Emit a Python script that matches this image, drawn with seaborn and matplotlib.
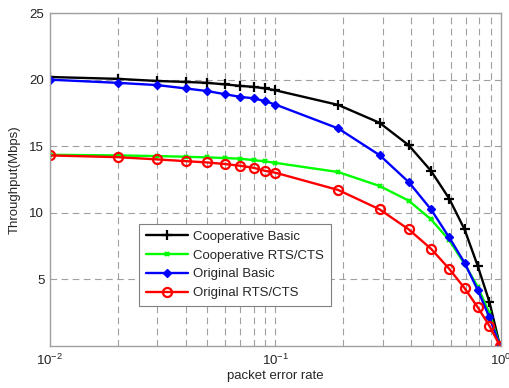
import matplotlib
matplotlib.use("Agg")
import matplotlib.pyplot as plt
import seaborn as sns
from matplotlib.ticker import FixedLocator, LogLocator, NullFormatter

# packet error rate (x) and throughput in Mbps for each scheme
per = [0.01, 0.02, 0.03, 0.04, 0.05, 0.06, 0.07, 0.08, 0.09, 0.10,
       0.19, 0.29, 0.39, 0.49, 0.59, 0.69, 0.79, 0.89, 0.99]
coop_basic = [20.2, 20.06, 19.9, 19.83, 19.76, 19.64, 19.53, 19.46, 19.34, 19.2,
              18.1, 16.75, 15.07, 13.14, 11.05, 8.74, 5.98, 3.27, 0.0]
coop_rts = [14.35, 14.3, 14.25, 14.2, 14.15, 14.1, 14.05, 13.95, 13.85, 13.74,
            13.05, 12.0, 10.9, 9.49, 7.93, 6.13, 4.42, 2.42, 0.0]
orig_basic = [20.0, 19.76, 19.59, 19.34, 19.14, 18.9, 18.7, 18.6, 18.38, 18.13,
              16.33, 14.32, 12.3, 10.24, 8.13, 6.23, 4.17, 2.12, 0.0]
orig_rts = [14.3, 14.17, 14.0, 13.87, 13.77, 13.65, 13.52, 13.37, 13.14, 13.0,
            11.7, 10.24, 8.74, 7.28, 5.77, 4.32, 2.87, 1.47, 0.0]

labels = ['Cooperative Basic', 'Cooperative RTS/CTS', 'Original Basic', 'Original RTS/CTS']

sns.set_theme(style="white")
plt.rcParams['font.family'] = ['Liberation Sans', 'DejaVu Sans']
plt.rcParams['mathtext.fontset'] = 'custom'
plt.rcParams['mathtext.rm'] = 'Liberation Sans'
plt.rcParams['mathtext.it'] = 'Liberation Sans'

fig = plt.figure(figsize=(5.09, 3.88), dpi=100)
ax = fig.add_axes([0.098, 0.1095, 0.886, 0.8565])

styles = [
    (coop_basic, labels[0], dict(color='black', marker='+', markersize=7, markeredgewidth=1.6)),
    (coop_rts, labels[1], dict(color='#00ff00', marker='x', markersize=3.5, markeredgewidth=1.6)),
    (orig_basic, labels[2], dict(color='#0000ff', marker='D', markersize=4.5, markeredgewidth=1.0)),
    (orig_rts, labels[3], dict(color='#ff0000', marker='o', markersize=6.5, markerfacecolor='none',
                               markeredgewidth=1.6)),
]
for vals, lab, kw in styles:
    sns.lineplot(x=per, y=vals, ax=ax, label=lab, linewidth=1.7,
                 markeredgecolor=kw['color'], **kw)

ax.set_xscale('log')
ax.set_xlim(0.01, 1.0)
ax.set_ylim(0, 25)
ax.yaxis.set_major_locator(FixedLocator([5, 10, 15, 20, 25]))
ax.xaxis.set_major_locator(LogLocator(base=10))
ax.xaxis.set_minor_locator(LogLocator(base=10, subs=range(2, 10)))
ax.xaxis.set_minor_formatter(NullFormatter())

grid_kw = dict(color='#a0a0a0', linestyle=(0, (6, 4)), linewidth=0.8)
ax.grid(True, which='both', axis='x', **grid_kw)
ax.grid(True, which='major', axis='y', **grid_kw)

for sp in ax.spines.values():
    sp.set_color('#a0a0a0')
    sp.set_linewidth(1)

ax.tick_params(axis='both', which='both', direction='in', length=0, labelsize=9.5,
               colors='#222222')
ax.tick_params(axis='x', pad=5)
ax.tick_params(axis='y', pad=4)

ax.set_xlabel('packet error rate', fontsize=9.5, labelpad=2)
ax.set_ylabel('Throughput(Mbps)', fontsize=9.5, labelpad=6)

leg = ax.legend(loc='upper left', bbox_to_anchor=(0.198, 0.366), fontsize=9.5,
                frameon=True, fancybox=False, framealpha=1, edgecolor='#808080',
                handlelength=3.2, labelspacing=0.5, borderpad=0.5, handletextpad=0.4,
                borderaxespad=0)
leg.get_frame().set_linewidth(0.8)
for h in leg.legend_handles:
    h.set_markevery([1])

fig.savefig('out.png', dpi=100)
